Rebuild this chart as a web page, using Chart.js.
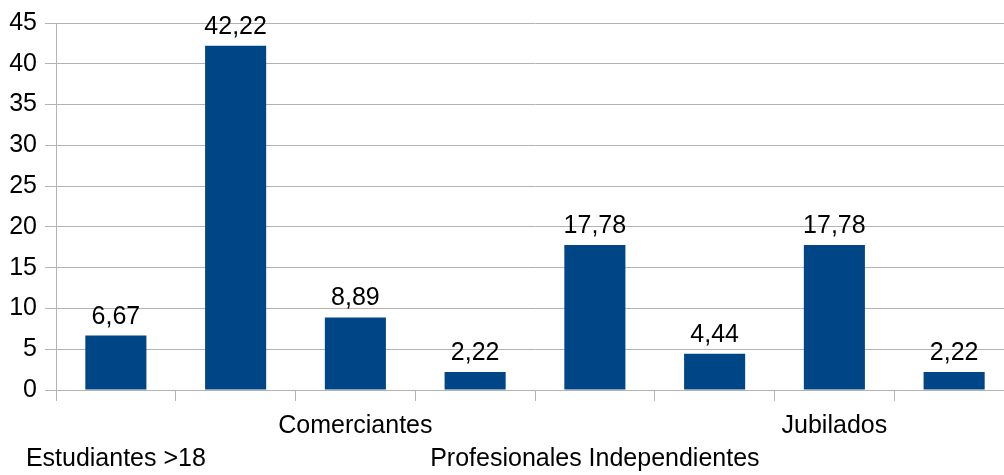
<!DOCTYPE html>
<html>
<head>
<meta charset="utf-8">
<script src="https://cdn.jsdelivr.net/npm/chart.js@4/dist/chart.umd.min.js"></script>
<style>
  html, body { margin: 0; padding: 0; background: #fff; overflow: hidden; }
  #wrap { width: 1020px; height: 475px; }
</style>
</head>
<body>
<div id="wrap"><canvas id="chart" width="1020" height="475"></canvas></div>
<script>
// categorias (solo algunas etiquetas son visibles en el original)
const categories = ['Estudiantes >18', '', 'Comerciantes', '', 'Profesionales Independientes', '', 'Jubilados', ''];
const values = [6.67, 42.22, 8.89, 2.22, 17.78, 4.44, 17.78, 2.22];
const yTicks = [0, 5, 10, 15, 20, 25, 30, 35, 40, 45];

const FONT = '"Liberation Sans", Arial, sans-serif';

// etiquetas escalonadas en dos filas, como en el original
const staggered = categories.map((c, i) => {
  const slot = Math.floor(i / 2);
  return slot % 2 === 0 ? ['', c] : [c, ''];
});

const valueLabels = {
  id: 'valueLabels',
  afterDatasetsDraw(chart) {
    const ctx = chart.ctx;
    const meta = chart.getDatasetMeta(0);
    ctx.save();
    ctx.font = '25px ' + FONT;
    ctx.fillStyle = '#000';
    ctx.textAlign = 'center';
    ctx.textBaseline = 'alphabetic';
    meta.data.forEach((bar, i) => {
      ctx.fillText(values[i].toFixed(2).replace('.', ','), bar.x, bar.y - 12);
    });
    ctx.restore();
  }
};

new Chart(document.getElementById('chart'), {
  type: 'bar',
  data: {
    labels: staggered,
    datasets: [{
      data: values,
      backgroundColor: '#004586',
      barPercentage: 0.51,
      categoryPercentage: 1.0
    }]
  },
  options: {
    responsive: false,
    animation: false,
    layout: { padding: { top: 22, right: 6, left: 0, bottom: 0 } },
    plugins: { legend: { display: false }, tooltip: { enabled: false } },
    scales: {
      x: {
        offset: true,
        grid: { offset: true, drawOnChartArea: false, color: '#b3b3b3', tickLength: 11 },
        border: { color: '#b3b3b3' },
        ticks: {
          autoSkip: false, maxRotation: 0, padding: 9, color: '#000',
          font: { family: FONT, size: 25, lineHeight: 1.32 }
        },
        afterFit(s) { s.height = 85; }
      },
      y: {
        min: 0, max: 45,
        afterBuildTicks(s) { s.ticks = yTicks.map(v => ({ value: v })); },
        grid: { color: '#b3b3b3', tickLength: 11 },
        border: { color: '#b3b3b3' },
        ticks: {
          padding: 8, color: '#000',
          font: { family: FONT, size: 25 }
        },
        afterFit(s) { s.width = 56; }
      }
    }
  },
  plugins: [valueLabels]
});
</script>
</body>
</html>
